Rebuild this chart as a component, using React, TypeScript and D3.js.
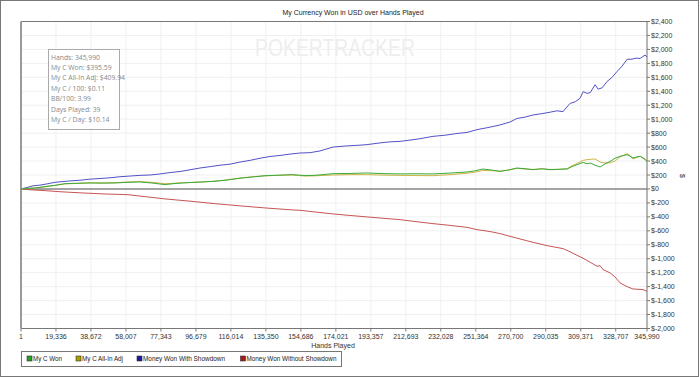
import React from "react";
import * as d3 from "d3";

const title = "My Currency Won in USD over Hands Played";
const watermark = "POKERTRACKER";
const xTicks = [1, 19336, 38672, 58007, 77343, 96679, 116014, 135350, 154686, 174021, 193357, 212693, 232028, 251364, 270700, 290035, 309371, 328707, 345990];
const yTicks = [-2000, -1800, -1600, -1400, -1200, -1000, -800, -600, -400, -200, 0, 200, 400, 600, 800, 1000, 1200, 1400, 1600, 1800, 2000, 2200, 2400];

const statsLines = [
  "Hands: 345,990",
  "My C Won: $395.59",
  "My C All-In Adj: $409.94",
  "My C / 100: $0.11",
  "BB/100: 3.99",
  "Days Played: 39",
  "My C / Day: $10.14",
];

const seriesNames = ["My C Won", "My C All-In Adj", "Money Won With Showdown", "Money Won Without Showdown"];

const withShowdown: [number, number][] = [
  [1, 0], [3300, 20], [6600, 45], [10500, 55], [14900, 75], [18800, 95], [22700, 105], [27100, 115],
  [32600, 125], [38100, 140], [43700, 150], [49200, 160], [54700, 175], [60200, 185], [65800, 195],
  [71300, 200], [76800, 215], [82400, 235], [87900, 250], [93400, 275], [98900, 300], [104500, 320],
  [110000, 340], [115500, 355], [121000, 385], [126600, 410], [132100, 440], [137600, 465], [143100, 480],
  [148700, 500], [154200, 515], [159700, 520], [165300, 545], [172400, 600], [179100, 615], [185700, 625],
  [191200, 635], [198400, 660], [204000, 675], [209500, 682], [215000, 700], [220500, 720], [227700, 754],
  [234300, 770], [241000, 795], [246500, 810], [252000, 850], [258100, 880], [264700, 917], [270300, 960],
  [274100, 1010], [278600, 1030], [283000, 1060], [288000, 1080], [292400, 1100], [296200, 1120],
  [299600, 1108], [301200, 1160], [303500, 1225], [306300, 1250], [309000, 1300], [310700, 1395],
  [312900, 1370], [314600, 1380], [317300, 1494], [319000, 1430], [321200, 1450], [323900, 1540],
  [326700, 1600], [329500, 1685], [332200, 1760], [335000, 1858], [337700, 1860], [340000, 1875],
  [342200, 1870], [344900, 1920], [345990, 1890],
];

const withoutShowdown: [number, number][] = [
  [1, 0], [5000, -12], [13300, -24], [21600, -40], [33700, -57], [46400, -72], [59100, -82], [68500, -110],
  [79600, -143], [93400, -175], [107200, -211], [121000, -242], [134900, -272], [148700, -298],
  [154200, -306], [162500, -330], [172400, -358], [181800, -380], [191200, -401], [200100, -420],
  [209500, -440], [218900, -470], [227700, -497], [237100, -522], [246500, -550], [252000, -583],
  [259200, -610], [264700, -640], [274100, -705], [283000, -765], [291300, -815], [299600, -855],
  [303500, -900], [307300, -951], [311200, -1000], [314600, -1051], [318400, -1108], [320100, -1100],
  [321700, -1156], [325600, -1203], [328300, -1260], [331100, -1347], [335000, -1400], [338200, -1433],
  [343800, -1443], [345990, -1467],
];

const myCWon: [number, number][] = [
  [1, 0], [3900, 10], [7700, 14], [13300, 35], [18800, 52], [24300, 76], [31500, 82], [38100, 86],
  [44800, 84], [52000, 86], [59100, 95], [65800, 100], [72400, 85], [79600, 62], [85100, 78], [89000, 86],
  [100000, 100], [107200, 110], [112800, 124], [122100, 157], [129300, 175], [134900, 190], [143100, 198],
  [149800, 205], [157000, 192], [162500, 195], [172400, 219], [181800, 222], [191200, 229], [200100, 220],
  [209500, 215], [218900, 218], [227700, 215], [237100, 228], [246500, 243], [250900, 260], [255300, 286],
  [260300, 270], [264700, 252], [269100, 270], [274100, 300], [278600, 290], [283000, 276], [288000, 290],
  [292400, 276], [296800, 280], [301800, 286], [304500, 320], [307300, 348], [310700, 380], [312900, 360],
  [314600, 372], [317300, 340], [320100, 315], [322800, 360], [325600, 395], [328300, 440], [331100, 467],
  [335000, 491], [336600, 470], [338200, 444], [340400, 460], [342200, 467], [344400, 430], [345990, 396],
];

const myCAllIn: [number, number][] = [
  [1, 0], [3900, 8], [7700, 12], [13300, 30], [18800, 50], [24300, 72], [31500, 80], [38100, 88],
  [44800, 86], [52000, 90], [59100, 100], [65800, 106], [72400, 95], [79600, 75], [85100, 82], [89000, 88],
  [100000, 100], [107200, 112], [112800, 128], [122100, 160], [129300, 178], [134900, 188], [143100, 195],
  [149800, 200], [157000, 185], [162500, 188], [172400, 200], [181800, 205], [191200, 205], [200100, 198],
  [209500, 195], [218900, 192], [227700, 190], [237100, 205], [246500, 225], [250900, 240], [255300, 265],
  [260300, 262], [264700, 255], [269100, 268], [274100, 295], [278600, 285], [283000, 280], [288000, 288],
  [292400, 280], [296800, 282], [301800, 290], [304500, 330], [307300, 365], [310700, 410], [312900, 420],
  [314600, 425], [317300, 430], [320100, 385], [322800, 372], [325600, 375], [328300, 400], [331100, 460],
  [335000, 505], [336600, 480], [338200, 430], [340400, 450], [342200, 470], [344400, 440], [345990, 410],
];

const W = 700;
const H = 377;
const left = 21;
const right = 647;
const top = 21.5;
const bottom = 328.5;

export default function App() {
  const x = d3.scaleLinear().domain([1, 345990]).range([left, right]);
  const y = d3.scaleLinear().domain([-2000, 2400]).range([bottom, top]);
  const line = d3
    .line<[number, number]>()
    .x((d) => x(d[0]))
    .y((d) => y(d[1]));
  const fmtY = (v: number) => (v < 0 ? "$-" + d3.format(",")(-v) : "$" + d3.format(",")(v));
  const font = "'Liberation Sans', Arial, sans-serif";

  const legendItems = [
    { name: seriesNames[0], fill: "#22a022", x: 27, w: 29 },
    { name: seriesNames[1], fill: "#a8a000", x: 76, w: 41 },
    { name: seriesNames[2], fill: "#1a1aa8", x: 137, w: 82 },
    { name: seriesNames[3], fill: "#a81a1a", x: 240.5, w: 90 },
  ];

  return (
    <svg width={W} height={H} style={{ position: "absolute", left: 0, top: 0, background: "#fff" }}>
      <rect x={0.5} y={0.5} width={W - 2} height={H - 1} fill="#fff" stroke="#777" />
      {/* grid */}
      {xTicks.map((t) => (
        <line key={"gx" + t} x1={x(t)} x2={x(t)} y1={top} y2={bottom} stroke="#f0f0f0" />
      ))}
      {yTicks.map((t) => (
        <line key={"gy" + t} x1={left} x2={right} y1={y(t)} y2={y(t)} stroke="#f0f0f0" />
      ))}
      {/* watermark */}
      <text x={255} y={56} fontFamily={font} fontSize={24} fill="#eeeeee" textLength={160} lengthAdjust="spacingAndGlyphs">
        {watermark}
      </text>
      {/* frame */}
      <line x1={left} x2={right} y1={top} y2={top} stroke="#777" />
      <line x1={right} x2={right} y1={top} y2={bottom} stroke="#777" />
      <line x1={left} x2={right} y1={bottom} y2={bottom} stroke="#777" />
      <line x1={left} x2={left} y1={top} y2={bottom} stroke="#999" strokeWidth={2} />
      <line x1={left} x2={right} y1={y(0)} y2={y(0)} stroke="#888" strokeWidth={1.5} />
      {/* series */}
      <path d={line(withoutShowdown) || ""} fill="none" stroke="#c85454" strokeWidth={1} />
      <path d={line(withShowdown) || ""} fill="none" stroke="#5252c8" strokeWidth={1} />
      <path d={line(myCAllIn) || ""} fill="none" stroke="#cdb445" strokeWidth={1} />
      <path d={line(myCWon) || ""} fill="none" stroke="#3aaa3a" strokeWidth={1} />
      {/* y axis */}
      {yTicks.map((t) => (
        <g key={"yt" + t}>
          <line x1={right} x2={right + 3} y1={y(t)} y2={y(t)} stroke="#777" />
          <text x={right + 4} y={y(t) + 2.5} fontFamily={font} fontSize={7} fill="#333">
            {fmtY(t)}
          </text>
        </g>
      ))}
      <text transform={`translate(680,176) rotate(90)`} fontFamily={font} fontSize={7} fill="#333" textAnchor="middle">
        $
      </text>
      {/* x axis */}
      {xTicks.map((t) => (
        <g key={"xt" + t}>
          <line x1={x(t)} x2={x(t)} y1={bottom} y2={bottom + 3} stroke="#777" />
          <text x={x(t)} y={338.5} fontFamily={font} fontSize={7} fill="#333" textAnchor="middle">
            {d3.format(",")(t)}
          </text>
        </g>
      ))}
      <text x={333} y={348} fontFamily={font} fontSize={7} fill="#333" textAnchor="middle">
        Hands Played
      </text>
      {/* title */}
      <text x={353} y={14.5} fontFamily={font} fontSize={7} fill="#222" textAnchor="middle">
        {title}
      </text>
      {/* stats box */}
      <rect x={48.5} y={49.5} width={71} height={80} fill="#fff" stroke="#aaa" />
      {statsLines.map((s, i) => (
        <text key={s} x={51} y={59.5 + i * 10.4} fontFamily="'Open Sans', 'Noto Sans', sans-serif" fontSize={6.8} fill="#888">
          {s}
        </text>
      ))}
      {/* legend */}
      <rect x={21.5} y={351.5} width={320} height={15} fill="#fff" stroke="#777" />
      {legendItems.map((it) => (
        <g key={it.name}>
          <rect x={it.x} y={356} width={5} height={5} fill={it.fill} stroke="#333" strokeWidth={0.6} />
          <text x={it.x + 6} y={361.2} fontFamily={font} fontSize={6.5} fill="#222" textLength={it.w} lengthAdjust="spacingAndGlyphs">
            {it.name}
          </text>
        </g>
      ))}
    </svg>
  );
}
